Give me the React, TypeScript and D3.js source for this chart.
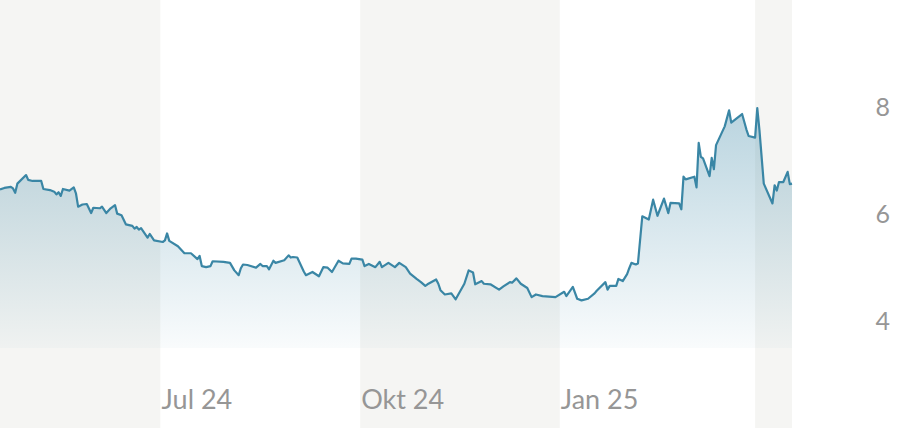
import { useMemo } from 'react'
import * as d3 from 'd3'

const WIDTH = 902
const HEIGHT = 428
const PLOT_W = 792

// price series
const dates = [
  '2024-04-18', '2024-04-20', '2024-04-23', '2024-04-24', '2024-04-25', '2024-04-26', '2024-04-30', '2024-05-01', '2024-05-03', '2024-05-07',
  '2024-05-08', '2024-05-11', '2024-05-13', '2024-05-14', '2024-05-15', '2024-05-16', '2024-05-17', '2024-05-20', '2024-05-22', '2024-05-23',
  '2024-05-24', '2024-05-26', '2024-05-28', '2024-05-30', '2024-05-31', '2024-06-03', '2024-06-04', '2024-06-06', '2024-06-08', '2024-06-10',
  '2024-06-11', '2024-06-13', '2024-06-15', '2024-06-18', '2024-06-19', '2024-06-20', '2024-06-21', '2024-06-22', '2024-06-25', '2024-06-26',
  '2024-06-28', '2024-07-02', '2024-07-03', '2024-07-04', '2024-07-05', '2024-07-09', '2024-07-12', '2024-07-15', '2024-07-18', '2024-07-19',
  '2024-07-20', '2024-07-22', '2024-07-24', '2024-07-25', '2024-07-30', '2024-08-02', '2024-08-04', '2024-08-06', '2024-08-07', '2024-08-08',
  '2024-08-10', '2024-08-14', '2024-08-16', '2024-08-17', '2024-08-19', '2024-08-20', '2024-08-22', '2024-08-23', '2024-08-27', '2024-08-29',
  '2024-08-30', '2024-08-31', '2024-09-02', '2024-09-05', '2024-09-06', '2024-09-09', '2024-09-12', '2024-09-14', '2024-09-16', '2024-09-18',
  '2024-09-21', '2024-09-23', '2024-09-26', '2024-09-27', '2024-09-29', '2024-10-02', '2024-10-03', '2024-10-05', '2024-10-08', '2024-10-10',
  '2024-10-11', '2024-10-14', '2024-10-17', '2024-10-19', '2024-10-22', '2024-10-24', '2024-10-27', '2024-10-29', '2024-10-31', '2024-11-01',
  '2024-11-05', '2024-11-06', '2024-11-07', '2024-11-09', '2024-11-12', '2024-11-14', '2024-11-18', '2024-11-20', '2024-11-22', '2024-11-23',
  '2024-11-26', '2024-11-27', '2024-11-30', '2024-12-04', '2024-12-06', '2024-12-09', '2024-12-10', '2024-12-12', '2024-12-14', '2024-12-17',
  '2024-12-19', '2024-12-21', '2024-12-24', '2024-12-30', '2025-01-03', '2025-01-04', '2025-01-07', '2025-01-09', '2025-01-11', '2025-01-14',
  '2025-01-17', '2025-01-18', '2025-01-22', '2025-01-23', '2025-01-24', '2025-01-27', '2025-01-28', '2025-01-30', '2025-02-01', '2025-02-02',
  '2025-02-03', '2025-02-05', '2025-02-06', '2025-02-08', '2025-02-11', '2025-02-13', '2025-02-15', '2025-02-18', '2025-02-20', '2025-02-21',
  '2025-02-25', '2025-02-26', '2025-02-27', '2025-02-28', '2025-03-04', '2025-03-05', '2025-03-06', '2025-03-07', '2025-03-08', '2025-03-11',
  '2025-03-12', '2025-03-13', '2025-03-14', '2025-03-18', '2025-03-20', '2025-03-21', '2025-03-26', '2025-03-28', '2025-03-29', '2025-04-01',
  '2025-04-02', '2025-04-03', '2025-04-05', '2025-04-09', '2025-04-10', '2025-04-11', '2025-04-12', '2025-04-14', '2025-04-16', '2025-04-17',
  '2025-04-18',
]

const prices = [
  6.46, 6.49, 6.51, 6.48, 6.40, 6.57, 6.73, 6.64, 6.62, 6.62,
  6.47, 6.45, 6.42, 6.37, 6.41, 6.34, 6.47, 6.44, 6.50, 6.39,
  6.14, 6.18, 6.19, 6.02, 6.12, 6.11, 6.14, 6.02, 6.11, 6.17,
  6.01, 5.98, 5.81, 5.78, 5.73, 5.76, 5.71, 5.74, 5.56, 5.63,
  5.51, 5.48, 5.51, 5.64, 5.50, 5.40, 5.27, 5.27, 5.16, 5.22,
  5.03, 5.01, 5.03, 5.12, 5.11, 5.09, 4.95, 4.86, 4.99, 5.06,
  5.05, 5.00, 5.07, 5.03, 5.03, 4.97, 5.13, 5.09, 5.14, 5.23,
  5.19, 5.20, 5.19, 4.93, 4.86, 4.92, 4.84, 5.01, 5.00, 4.92,
  5.13, 5.08, 5.07, 5.17, 5.17, 5.15, 5.03, 5.07, 5.01, 5.11,
  5.01, 5.09, 5.01, 5.09, 5.01, 4.89, 4.79, 4.73, 4.66, 4.69,
  4.78, 4.70, 4.58, 4.50, 4.52, 4.41, 4.70, 4.95, 4.91, 4.69,
  4.75, 4.70, 4.69, 4.59, 4.65, 4.73, 4.72, 4.80, 4.70, 4.62,
  4.45, 4.50, 4.47, 4.45, 4.55, 4.47, 4.64, 4.42, 4.39, 4.42,
  4.52, 4.57, 4.73, 4.59, 4.66, 4.66, 4.79, 4.75, 4.88, 4.99,
  5.09, 5.06, 5.08, 5.96, 5.90, 6.27, 5.97, 6.29, 6.02, 6.21,
  6.20, 6.09, 6.70, 6.65, 6.70, 6.50, 7.33, 7.07, 7.04, 6.71,
  7.05, 6.84, 7.29, 7.64, 7.94, 7.71, 7.87, 7.58, 7.46, 7.43,
  7.98, 7.57, 6.57, 6.20, 6.54, 6.44, 6.60, 6.60, 6.79, 6.56,
  6.57,
]

const yTicks = [4, 6, 8]
const xTickDates = ['2024-07-01', '2024-10-01', '2025-01-01']
const xTickLabels = ['Jul 24', 'Okt 24', 'Jan 25']

const parse = d3.timeParse('%Y-%m-%d')

export default function App() {
  const data = useMemo(() => dates.map((d, i) => ({ date: parse(d) as Date, value: prices[i] })), [])

  const x = d3.scaleTime()
    .domain([parse('2024-04-18') as Date, parse('2025-04-18') as Date])
    .range([0, PLOT_W])
  const y = d3.scaleLinear().domain([3.5, 10]).range([348, 0])

  const line = d3.line<any>().x(d => x(d.date)).y(d => y(d.value))
  const area = d3.area<any>().x(d => x(d.date)).y0(y(3.5)).y1(d => y(d.value))

  // alternating quarter bands
  const quarters = d3.timeMonth.every(3)!.range(parse('2024-04-01') as Date, parse('2025-07-01') as Date)
  const bands = quarters.map((q, i) => {
    const x0 = Math.max(0, x(q))
    const x1 = Math.min(PLOT_W, x(d3.timeMonth.offset(q, 3)))
    return { x0, x1, grey: i % 2 === 0 }
  }).filter(b => b.x1 > b.x0)

  return (
    <svg width={WIDTH} height={HEIGHT} style={{ position: 'absolute', left: 0, top: 0, display: 'block' }}
      fontFamily="Lato, 'Open Sans', sans-serif">
      <defs>
        <linearGradient id="fillGrad" gradientUnits="userSpaceOnUse" x1={0} y1={0} x2={0} y2={y(3.5)}>
          <stop offset="0%" stopColor="#3a86a5" stopOpacity={0.5} />
          <stop offset="100%" stopColor="#3a86a5" stopOpacity={0.03} />
        </linearGradient>
      </defs>
      {bands.map((b, i) => (
        <rect key={i} x={b.x0} y={0} width={b.x1 - b.x0} height={HEIGHT} fill={b.grey ? '#f5f5f3' : '#ffffff'} />
      ))}
      <path d={area(data) || ''} fill="url(#fillGrad)" />
      <path d={line(data) || ''} fill="none" stroke="#3a86a5" strokeWidth={2.2} strokeLinejoin="round" />
      {yTicks.map(t => (
        <text key={t} x={890} y={y(t)} dy="0.37em" textAnchor="end" fontSize={25} fill="#969696">{t}</text>
      ))}
      {xTickDates.map((d, i) => (
        <text key={d} x={x(parse(d) as Date) + 1} y={409} fontSize={27} fill="#969696">{xTickLabels[i]}</text>
      ))}
    </svg>
  )
}
